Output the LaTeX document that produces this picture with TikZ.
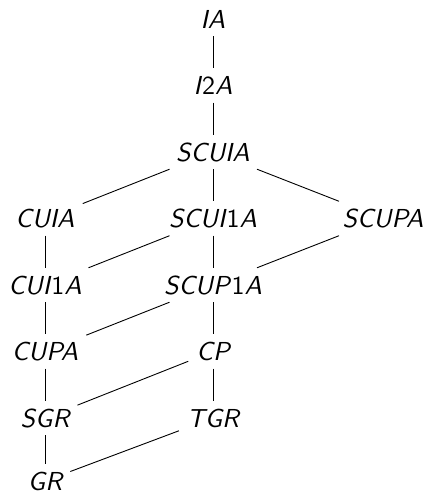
\documentclass[tikz,border=0pt]{standalone}
\usepackage{fontspec}
\newfontfamily\lmsten{lmsans10-regular.otf}[ItalicFont=lmsans10-oblique.otf]
\begin{document}
\begin{tikzpicture}[x=1pt,y=-1pt,
  lbl/.style={font=\lmsten\itshape\fontsize{26}{31}\selectfont, text height=18pt, text depth=0pt, inner xsep=8pt, inner ysep=8pt},
  edge/.style={line width=0.9pt}]
\useasboundingbox (0,0) rectangle (428,493);
\node[lbl] (IA) at (213,19) {IA};
\node[lbl] (I2A) at (213,85.5) {I\textup{2}A};
\node[lbl] (SCUIA) at (213,152) {SCUIA};
\node[lbl] (CUIA) at (45,218.5) {CUIA};
\node[lbl] (SCUI1A) at (213,218.5) {SCUI\textup{1}A};
\node[lbl] (SCUPA) at (383,218.5) {SCUPA};
\node[lbl] (CUI1A) at (45,285) {CUI\textup{1}A};
\node[lbl] (SCUP1A) at (213,285) {SCUP\textup{1}A};
\node[lbl] (CUPA) at (45,351.5) {CUPA};
\node[lbl] (CP) at (213,351.5) {CP};
\node[lbl] (SGR) at (45,418) {SGR};
\node[lbl] (TGR) at (213,418) {TGR};
\node[lbl] (GR) at (45,481) {GR};
\draw[edge] (IA) -- (I2A);
\draw[edge] (I2A) -- (SCUIA);
\draw[edge] (SCUIA) -- (CUIA);
\draw[edge] (SCUIA) -- (SCUI1A);
\draw[edge] (SCUIA) -- (SCUPA);
\draw[edge] (CUIA) -- (CUI1A);
\draw[edge] (SCUI1A) -- (CUI1A);
\draw[edge] (SCUI1A) -- (SCUP1A);
\draw[edge] (SCUPA) -- (SCUP1A);
\draw[edge] (CUI1A) -- (CUPA);
\draw[edge] (SCUP1A) -- (CUPA);
\draw[edge] (SCUP1A) -- (CP);
\draw[edge] (CUPA) -- (SGR);
\draw[edge] (CP) -- (SGR);
\draw[edge] (CP) -- (TGR);
\draw[edge] (SGR) -- (GR);
\draw[edge] (TGR) -- (GR);
\end{tikzpicture}
\end{document}
